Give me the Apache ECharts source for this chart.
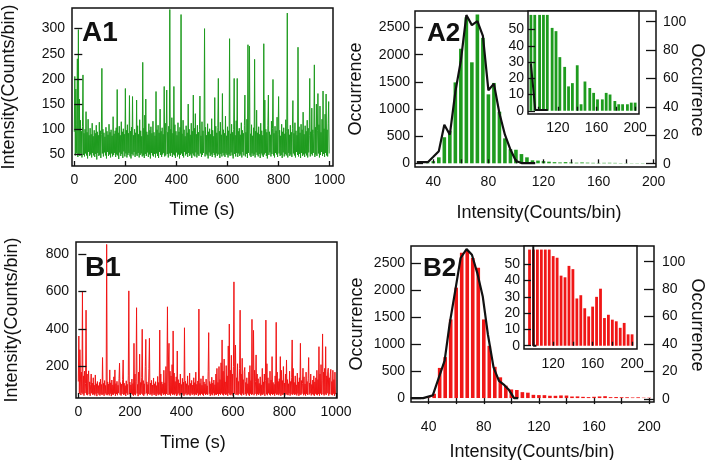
<!DOCTYPE html>
<html><head><meta charset="utf-8">
<script src="https://cdn.jsdelivr.net/npm/echarts@6/dist/echarts.min.js"></script>
<style>html,body{margin:0;padding:0;background:#fff}#c{width:707px;height:460px}</style>
</head><body><div id="c"></div>
<script>
// ---------- DATA ----------
const A1_dt = 2; // s per sample
const A1_intensity = [
95,205,48,180,52,110,240,45,298,50,160,47,118,52,96,44,105,208,49,92,
46,100,52,135,48,94,42,120,55,88,47,102,50,90,44,112,53,86,48,98,
45,92,51,108,40,95,53,88,47,114,49,97,43,90,221,52,100,46,93,54,
85,48,104,42,96,55,89,47,110,50,94,44,99,52,87,46,125,49,91,53,
97,45,103,50,179,48,93,41,106,54,88,47,115,51,95,43,101,56,90,46,
181,52,98,44,109,49,92,53,167,46,96,42,104,51,165,48,88,55,100,45,
93,50,158,47,107,53,90,44,119,49,97,52,86,46,233,48,102,43,128,51,
160,47,95,54,89,45,111,50,98,42,105,53,92,48,116,46,94,51,87,44,
175,52,99,47,108,43,93,55,140,49,96,45,103,50,90,53,185,46,112,48,
97,178,51,94,44,106,52,338,47,100,53,123,45,92,50,185,48,109,43,96,
54,88,46,113,50,95,42,104,49,328,52,91,47,118,44,99,55,86,48,107,
51,93,45,150,53,100,47,89,50,112,43,96,52,168,48,102,46,131,54,90,
44,108,50,94,47,99,166,52,87,45,115,49,97,53,92,300,46,104,51,88,
48,111,42,95,54,101,47,90,50,121,45,98,53,86,49,163,44,106,52,93,
47,103,201,50,96,43,114,51,89,46,171,53,99,48,92,45,126,52,87,49,
105,44,97,50,280,47,91,54,110,48,94,42,100,201,51,88,46,117,53,201,
45,96,52,102,47,89,50,113,44,98,55,92,48,107,168,46,94,51,120,43,
268,53,99,265,48,91,45,109,52,87,47,103,50,239,44,96,54,138,49,93,
46,105,51,90,43,112,52,97,48,88,45,270,50,158,53,100,47,94,42,108,
168,49,95,54,89,46,116,51,101,199,48,92,44,106,53,97,50,124,45,90,
165,52,98,47,87,49,110,43,95,54,103,46,91,51,119,48,96,331,44,100,
53,89,47,108,50,94,45,101,157,52,92,48,113,44,97,55,88,49,263,46,
105,51,93,43,110,53,99,47,134,50,90,45,107,52,96,48,118,44,102,54,
87,201,46,95,51,142,48,99,53,91,228,45,104,50,150,47,97,171,52,109,
44,146,49,94,55,120,47,176,51,101,45,130,53,170,48,99,46,112,155,52
];
const B1_dt = 2;
const B1_intensity = [
120,363,55,290,297,48,170,60,599,52,150,45,175,58,110,501,50,160,47,125,
177,53,118,44,105,160,57,112,49,140,52,100,46,155,55,108,42,120,58,98,
50,115,45,132,54,104,48,248,52,110,44,125,57,99,50,852,47,118,53,107,
46,182,55,113,42,128,51,102,49,145,56,182,44,109,53,121,47,100,58,135,
218,50,114,45,106,54,130,235,48,111,52,98,43,124,57,105,49,150,604,53,
117,46,102,55,133,50,109,44,324,51,160,47,120,514,56,104,42,170,53,266,
48,115,55,140,399,50,125,44,108,52,200,345,57,118,46,104,54,190,351,49,
112,53,126,45,101,56,139,48,108,51,119,43,98,55,147,47,115,52,395,50,
160,44,118,57,106,49,180,53,113,46,200,54,170,519,48,240,324,51,175,45,
150,56,210,49,390,52,165,47,120,55,145,43,283,50,130,57,112,46,160,53,
104,48,137,55,116,44,407,51,121,57,108,47,150,53,99,50,165,45,110,56,
126,49,101,54,140,46,114,52,170,48,105,57,123,44,507,51,110,47,135,55,
100,50,150,45,118,56,106,48,133,53,97,49,175,381,55,120,44,108,52,143,
47,112,57,128,46,103,51,160,48,190,54,115,45,200,53,130,49,220,56,342,
50,175,46,240,55,118,48,205,52,150,44,310,57,427,50,180,47,260,53,160,
45,200,652,55,170,315,49,140,52,215,47,120,54,190,501,50,160,46,244,56,
130,48,175,195,53,115,45,140,57,108,50,170,44,205,55,125,49,452,52,150,
393,47,180,54,120,262,46,160,53,135,48,110,56,145,45,102,51,190,49,118,
55,160,44,125,448,52,215,47,140,57,110,50,175,46,128,54,253,48,115,53,
105,45,150,56,436,49,170,52,120,47,135,55,253,44,180,51,125,48,200,53,
112,46,160,54,235,50,130,47,108,57,175,45,120,52,140,342,49,190,55,115,
48,150,53,102,46,165,56,118,44,140,51,324,49,125,55,110,191,47,145,52,
107,45,170,54,120,48,135,248,51,112,57,160,46,104,53,128,49,150,44,118,
55,140,50,180,47,130,53,306,45,160,56,210,49,125,374,52,170,46,190,54,
306,48,150,57,175,191,45,140,53,160,185,50,120,47,180,55,130,44,170,52
];
// histogram A2 (bin centre, counts)
const A2_bins = [28,32,36,40,44,48,52,56,60,64,68,72,76,80,84,88,92,96,100,104,108,112,116,120,124,128,132,136,140,144,148,152,156,160,164,168,172,176,180,184,188,192,196,200];
const A2_counts = [0,0,10,40,110,480,600,1490,2110,2690,1860,2740,2310,1270,1480,950,460,260,250,170,110,55,50,40,30,21,16,22,16,11,16,12,9,7,9,10,8,5,4,4,4,5,5,3];
const A2_fitX = [28,36,40,44,48,52,56,60,64,68,72,76,80,84,88,92,96,100,104,114];
const A2_fitY = [20,20,120,224,709,527,1315,1890,2730,2545,2618,2345,1345,1467,921,527,254,42,5,5];
const A2_insetX = [92,96,101,105,109,114,118,122,127,131,135,140,144,148,153,157,161,166,170,174,179,183,187,192,196,200];
const A2_insetY = [59,59,59,59,59,51,49,33,27,15,17,28,4,18,14,11,7,7,11,10,6,4,4,4,5,5];
const A2_insetFitX = [92,96.5,109.5];
const A2_insetFitY = [29,0.5,0.5];
// histogram B2
const B2_bins = [28,32,36,40,44,48,52,56,60,64,68,72,76,80,84,88,92,96,100,104,108,112,116,120,124,128,132,136,140,144,148,152,156,160,164,168,172,176,180,184,188,192,196,200];
const B2_counts = [0,0,5,15,80,560,760,1460,2050,2700,2740,2600,2420,1460,970,580,385,230,160,150,110,100,60,55,54,43,42,49,47,29,31,23,18,24,30,35,17,19,16,15,11,14,7,7];
const B2_fitX = [27,36,43,51.6,55.2,59.6,63.2,67.5,71.4,75.3,79.3,83,87.1,91,95,98,102,105];
const B2_fitY = [0,0,50,694,1370,2040,2600,2765,2660,2320,1880,1180,570,320,240,160,0,0];
const B2_insetX = [96,100,104,108,112,116,120,124,128,132,136,140,144,148,152,156,160,164,168,172,176,180,184,188,192,196,200];
const B2_insetY = [59,59,59,59,59,59,55,54,43,42,49,47,29,31,23,18,24,30,35,17,19,16,15,11,14,7,7];
const B2_insetFitX = [99.5,100,103];
const B2_insetFitY = [160,0,0];
// tick values / tick labels
const timeTicks = [0,200,400,600,800,1000];
const A1_yTicks = [50,100,150,200,250,300];
const B1_yTicks = [200,400,600,800];
const histXTicks = [40,60,80,100,120,140,160,180,200];
const histXLabels = [40,80,120,160,200];
const histYTicks = [0,500,1000,1500,2000,2500];
const rightTicks = [0,20,40,60,80,100];
const insetXTicks = [100,120,140,160,180,200];
const insetXLabels = [120,160,200];
const insetYTicks = [0,10,20,30,40,50];

// ---------- CHART ----------
const FONT = '"Liberation Sans", Arial, sans-serif';
const GREEN = '#1e9b1e', RED = '#f01616', INK = '#111';
const pairs = (xs, ys) => xs.map((x, i) => [x, ys[i]]);
const trace = (vals, dt) => vals.map((v, i) => [i * dt, v]);

function ax(o) {
  return {
    type: 'value', gridIndex: o.g, min: o.min, max: o.max, position: o.pos, z: o.z || 3,
    splitLine: { show: false }, axisLine: { show: false },
    axisTick: { show: true, inside: o.inside !== false, length: o.len || 6, customValues: o.ticks,
      lineStyle: { color: INK, width: 1.3 } },
    axisLabel: { fontSize: 14, color: INK, fontFamily: FONT, margin: o.margin || 7,
      customValues: o.labels || o.ticks, formatter: v => String(v) }
  };
}
function gtext(text, x, y, size, rot, bold) {
  return { type: 'text', x, y, rotation: rot || 0, z: 100,
    style: { text, fill: INK, font: (bold ? 'bold ' : '') + size + 'px ' + FONT,
      align: bold ? 'left' : 'center', verticalAlign: 'middle',
      textAlign: bold ? 'left' : 'center', textVerticalAlign: 'middle' } };
}

const gridStyle = { show: true, borderColor: INK, borderWidth: 1.5, backgroundColor: 'transparent' };
const option = {
  animation: false,
  backgroundColor: '#fff',
  grid: [
    Object.assign({ left: 72, top: 8, width: 261, height: 158 }, gridStyle),
    Object.assign({ left: 415, top: 11, width: 241, height: 156 }, gridStyle),
    Object.assign({ left: 528, top: 11, width: 111, height: 103, z: 5 }, gridStyle, { backgroundColor: '#fff' }),
    Object.assign({ left: 76, top: 242, width: 261, height: 156 }, gridStyle),
    Object.assign({ left: 411, top: 246, width: 243, height: 156 }, gridStyle),
    Object.assign({ left: 524, top: 246, width: 113, height: 103, z: 5 }, gridStyle, { backgroundColor: '#fff' })
  ],
  xAxis: [
    ax({ g: 0, min: -9, max: 1013, ticks: timeTicks, len: 5, margin: 7 }),
    ax({ g: 1, min: 26.7, max: 201.7, ticks: histXTicks, labels: histXLabels, len: 4, margin: 8 }),
    ax({ g: 2, min: 89, max: 204, ticks: insetXTicks, labels: insetXLabels, len: 4, margin: 7, z: 8 }),
    ax({ g: 3, min: -9, max: 1004, ticks: timeTicks, len: 5, margin: 7 }),
    ax({ g: 4, min: 27.2, max: 203.5, ticks: histXTicks, labels: histXLabels, len: 6, inside: false, margin: 18 }),
    ax({ g: 5, min: 90.4, max: 205, ticks: insetXTicks, labels: insetXLabels, len: 4, margin: 8, z: 8 })
  ],
  yAxis: [
    ax({ g: 0, min: 27, max: 341, ticks: A1_yTicks, len: 8, margin: 7 }),
    ax({ g: 1, min: -68, max: 2805, ticks: histYTicks, len: 8, margin: 5 }),
    ax({ g: 1, min: -2.3, max: 107.5, ticks: rightTicks, len: 10, margin: 7, pos: 'right' }),
    ax({ g: 2, min: -2, max: 61.4, ticks: insetYTicks, len: 7, margin: 4, z: 8 }),
    ax({ g: 3, min: 32, max: 865, ticks: B1_yTicks, len: 8, margin: 7 }),
    ax({ g: 4, min: -73, max: 2823, ticks: histYTicks, len: 10, margin: 6 }),
    ax({ g: 4, min: -2.2, max: 111.4, ticks: rightTicks, len: 10, margin: 8, pos: 'right' }),
    ax({ g: 5, min: -2, max: 61.2, ticks: insetYTicks, len: 7, margin: 4, z: 8 })
  ],
  series: [
    { type: 'line', xAxisIndex: 0, yAxisIndex: 0, data: trace(A1_intensity, A1_dt), showSymbol: false, symbol: 'none',
      lineStyle: { color: GREEN, width: 1 }, z: 2 },
    { type: 'bar', xAxisIndex: 1, yAxisIndex: 1, data: pairs(A2_bins, A2_counts), barWidth: 3.6, itemStyle: { color: GREEN }, z: 2 },
    { type: 'line', xAxisIndex: 1, yAxisIndex: 1, data: pairs(A2_fitX, A2_fitY), showSymbol: false, symbol: 'none',
      lineStyle: { color: INK, width: 2.2 }, z: 3 },
    { type: 'bar', xAxisIndex: 2, yAxisIndex: 3, data: pairs(A2_insetX, A2_insetY), barWidth: 2.8, itemStyle: { color: GREEN }, z: 6 },
    { type: 'line', xAxisIndex: 2, yAxisIndex: 3, data: pairs(A2_insetFitX, A2_insetFitY), showSymbol: false, symbol: 'none',
      lineStyle: { color: INK, width: 2 }, z: 9 },
    { type: 'line', xAxisIndex: 3, yAxisIndex: 4, data: trace(B1_intensity, B1_dt), showSymbol: false, symbol: 'none',
      lineStyle: { color: RED, width: 1 }, z: 2 },
    { type: 'bar', xAxisIndex: 4, yAxisIndex: 5, data: pairs(B2_bins, B2_counts), barWidth: 3.6, itemStyle: { color: RED }, z: 2 },
    { type: 'line', xAxisIndex: 4, yAxisIndex: 5, data: pairs(B2_fitX, B2_fitY), showSymbol: false, symbol: 'none',
      lineStyle: { color: INK, width: 2.2 }, z: 3 },
    { type: 'bar', xAxisIndex: 5, yAxisIndex: 7, data: pairs(B2_insetX, B2_insetY), barWidth: 2.8, itemStyle: { color: RED }, z: 6 },
    { type: 'line', xAxisIndex: 5, yAxisIndex: 7, data: pairs(B2_insetFitX, B2_insetFitY), showSymbol: false, symbol: 'none',
      lineStyle: { color: INK, width: 2 }, z: 9 }
  ],
  graphic: [
    gtext('Intensity(Counts/bin)', 9, 87, 18, Math.PI / 2),
    gtext('Time (s)', 202, 210, 18),
    gtext('Occurrence', 356, 89, 18, Math.PI / 2),
    gtext('Occurrence', 697, 90, 18, -Math.PI / 2),
    gtext('Intensity(Counts/bin)', 539, 213, 18),
    gtext('Intensity(Counts/bin)', 12, 320, 18, Math.PI / 2),
    gtext('Time (s)', 193, 443, 18),
    gtext('Occurrence', 357, 324, 18, Math.PI / 2),
    gtext('Occurrence', 697, 325, 18, -Math.PI / 2),
    gtext('Intensity(Counts/bin)', 532, 452, 18),
    gtext('A1', 82, 33, 28, 0, true),
    gtext('A2', 427, 34, 26, 0, true),
    gtext('B1', 85, 268, 28, 0, true),
    gtext('B2', 423, 269, 26, 0, true)
  ]
};
const chart = echarts.init(document.getElementById('c'), null, { renderer: 'canvas' });
chart.setOption(option);
</script>
</body></html>
